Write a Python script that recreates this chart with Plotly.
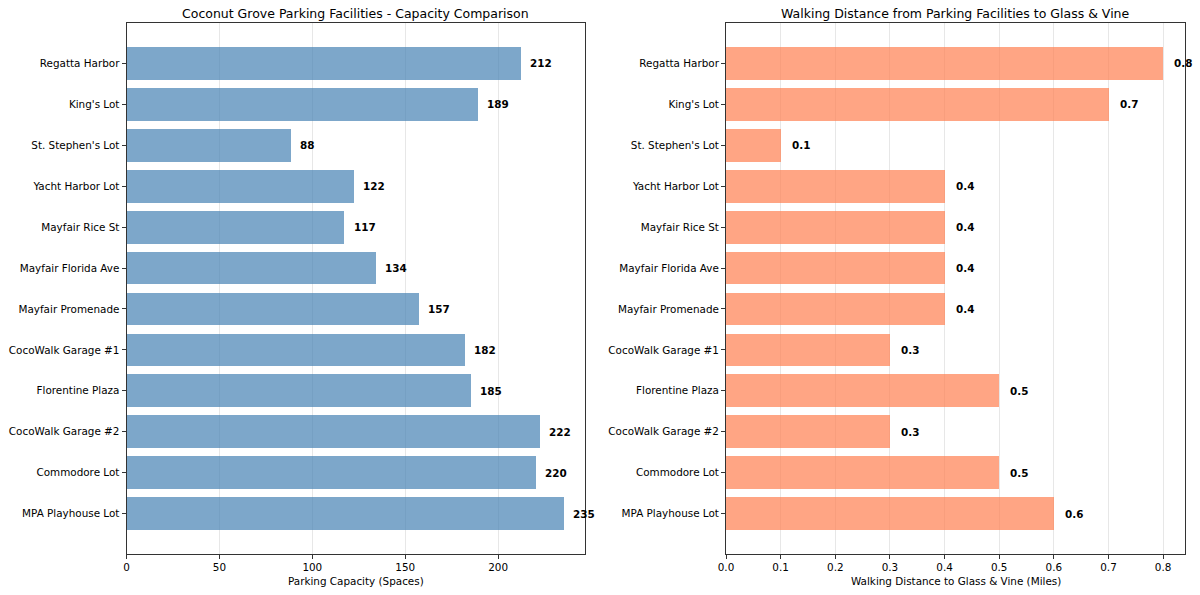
import plotly.graph_objects as go

facilities = ["MPA Playhouse Lot", "Commodore Lot", "CocoWalk Garage #2", "Florentine Plaza",
              "CocoWalk Garage #1", "Mayfair Promenade", "Mayfair Florida Ave", "Mayfair Rice St",
              "Yacht Harbor Lot", "St. Stephen's Lot", "King's Lot", "Regatta Harbor"]
capacity = [235, 220, 222, 185, 182, 157, 134, 117, 122, 88, 189, 212]
distance = [0.6, 0.5, 0.3, 0.5, 0.3, 0.4, 0.4, 0.4, 0.4, 0.1, 0.7, 0.8]

cap_ticks = [0, 50, 100, 150, 200]
dist_ticks = [0.0, 0.1, 0.2, 0.3, 0.4, 0.5, 0.6, 0.7, 0.8]

W, H = 1200, 595
FONT = "DejaVu Sans"
FS = 10.4
ypos = list(range(len(facilities)))

fig = go.Figure()
fig.add_trace(go.Bar(y=ypos, x=capacity, orientation="h", width=0.8,
                     marker=dict(color="rgb(70,130,180)", opacity=0.7, line=dict(width=0)),
                     xaxis="x", yaxis="y", hoverinfo="skip"))
fig.add_trace(go.Bar(y=ypos, x=distance, orientation="h", width=0.8,
                     marker=dict(color="rgb(255,127,80)", opacity=0.7, line=dict(width=0)),
                     xaxis="x2", yaxis="y2", hoverinfo="skip"))

ann = []
cmax = max(capacity)
dmax = max(distance)
for i, v in enumerate(capacity):
    ann.append(dict(x=v + cmax * 0.0175, y=i, xref="x", yref="y", text=f"<b>{v}</b>",
                    showarrow=False, xanchor="left", yanchor="middle",
                    font=dict(family=FONT, size=FS, color="black")))
for i, v in enumerate(distance):
    ann.append(dict(x=v + dmax * 0.021, y=i, xref="x2", yref="y2", text=f"<b>{v:.1f}</b>",
                    showarrow=False, xanchor="left", yanchor="middle",
                    font=dict(family=FONT, size=FS, color="black")))

lx0, lx1 = 126.5 / W, 585 / W
rx0, rx1 = 726 / W, 1185 / W
y0, y1 = (H - 554) / H, (H - 23) / H

ann.append(dict(x=(lx0 + lx1) / 2, y=(H - 13) / H, xref="paper", yref="paper",
                text="Coconut Grove Parking Facilities - Capacity Comparison", showarrow=False,
                xanchor="center", yanchor="middle", font=dict(family=FONT, size=12.5, color="black")))
ann.append(dict(x=(rx0 + rx1) / 2, y=(H - 13) / H, xref="paper", yref="paper",
                text="Walking Distance from Parking Facilities to Glass &amp; Vine", showarrow=False,
                xanchor="center", yanchor="middle", font=dict(family=FONT, size=12.5, color="black")))
ann.append(dict(x=(lx0 + lx1) / 2, y=(H - 581) / H, xref="paper", yref="paper",
                text="Parking Capacity (Spaces)", showarrow=False,
                xanchor="center", yanchor="middle", font=dict(family=FONT, size=FS, color="black")))
ann.append(dict(x=(rx0 + rx1) / 2, y=(H - 581) / H, xref="paper", yref="paper",
                text="Walking Distance to Glass &amp; Vine (Miles)", showarrow=False,
                xanchor="center", yanchor="middle", font=dict(family=FONT, size=FS, color="black")))

axis_common = dict(showline=True, linecolor="#333333", linewidth=1, mirror=True,
                   ticks="outside", ticklen=4, tickcolor="#333333", tickwidth=1,
                   tickfont=dict(family=FONT, size=FS, color="black"), zeroline=False,
                   automargin=False)

fig.update_layout(
    width=W, height=H, margin=dict(l=0, r=0, t=0, b=0),
    paper_bgcolor="white", plot_bgcolor="white", showlegend=False, bargap=0,
    xaxis=dict(domain=[lx0, lx1], range=[0, cmax * 1.05], tickvals=cap_ticks,
               showgrid=True, gridcolor="rgba(176,176,176,0.3)", gridwidth=1, anchor="y",
               **axis_common),
    yaxis=dict(domain=[y0, y1], range=[-0.99, len(facilities) - 1 + 0.99], tickvals=ypos,
               ticktext=facilities, showgrid=False, anchor="x", **axis_common),
    xaxis2=dict(domain=[rx0, rx1], range=[0, dmax * 1.05], tickvals=dist_ticks,
                ticktext=[f"{t:.1f}" for t in dist_ticks],
                showgrid=True, gridcolor="rgba(176,176,176,0.3)", gridwidth=1, anchor="y2",
                **axis_common),
    yaxis2=dict(domain=[y0, y1], range=[-0.99, len(facilities) - 1 + 0.99], tickvals=ypos,
                ticktext=facilities, showgrid=False, anchor="x2", **axis_common),
    annotations=ann,
)

fig.write_html("out.html")
